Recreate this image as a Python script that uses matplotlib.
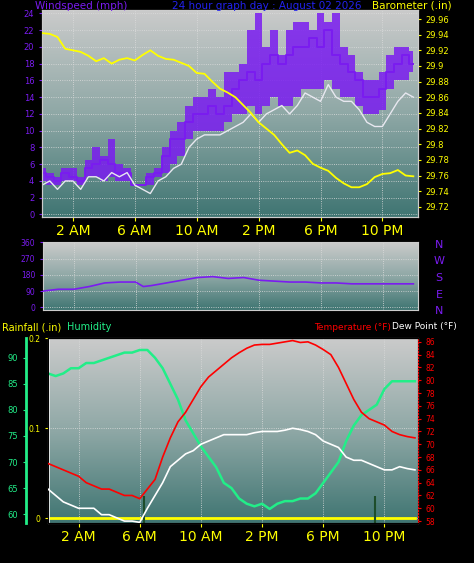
import numpy as np
import matplotlib
matplotlib.use("Agg")
import matplotlib.pyplot as plt
from matplotlib.colors import LinearSegmentedColormap

hours = np.arange(0, 24.01, 0.5)
gust_hi = [5.5,5,4.5,5.5,5.5,4.5,6.5,8,7,9,6,5.5,3.5,3.5,5,5.5,8,10,11,13,14,14,15,14,17,17,18,22,24,20,22,19,22,23,23,22,24,23,24,20,19,17,16,16,17,19,20,20,19.5]
gust_lo = [4,3.5,3.5,4,4,3.5,4.5,4.5,4,4.5,4,4,3.5,3.5,3.5,4.5,5,6,7,9,10,10,10,10,11,12,12,13,12,13,14,13,13,14,15,15,15,16,15,14,14,13,12,12,12.5,15,16,16,17]
gust = [5,4.5,4,5,4.5,4,5.5,6,6.5,6,5,5,3.5,3.5,4.5,5,7,9,9,11,12,12,13,12,13,15,16,17,16,18,19,18,19,20,20,21,20,22,19,18,17,16,14,14,15,17,18,19,18]
wavg = [3.5,4,3,4,4,3,4.5,4.5,4,5,4.5,5,3.5,3,2.5,4,4.5,5.5,6,8,9,9.5,9.5,9.5,10,10.5,11,12,11,12,12.5,13,12,13,14.5,14,13.5,15.5,14,13.5,13.5,12.5,11,10.5,10.5,12,13.5,14.5,14]
baro = [29.942,29.941,29.937,29.922,29.920,29.918,29.913,29.906,29.910,29.903,29.908,29.910,29.907,29.914,29.920,29.913,29.909,29.908,29.904,29.900,29.891,29.890,29.880,29.871,29.866,29.860,29.850,29.840,29.828,29.820,29.812,29.800,29.789,29.792,29.786,29.775,29.770,29.766,29.757,29.750,29.745,29.745,29.749,29.758,29.762,29.763,29.767,29.760,29.759]
dir_hours = [0,1,2,3,4,5,6,6.5,7,8,9,10,11,12,13,14,15,16,17,18,19,20,21,22,23,24]
wdir = [90,100,100,115,135,140,140,115,120,135,150,165,170,160,165,150,145,140,140,135,135,130,130,130,130,130]
humid = [87,86.5,87,88,88,89,89,89.5,90,90.5,91,91,91.5,91.5,90,88,85,82,78,75.5,73,71,69,66,65,63,62,61.5,62,61,62,62.5,62.5,63,63,64,66,68,70,74,77,79,80,81,84,85.5,85.5,85.5,85.5]
temp = [67,66.5,66,65.5,65,64,63.5,63,63,62.5,62,62,61.5,63,64.5,68,71,73.5,75,77,79,80.5,81.5,82.5,83.5,84.3,85,85.5,85.6,85.6,85.8,86,86.2,85.9,86,85.5,84.8,84,82,79.5,77,75,74,73.5,73,72,71.5,71.2,71]
dew = [63,62,61,60.5,60,60,60,59,59,58.5,58,58,57.8,60,62,64,66.5,67.5,68.5,69,70,70.5,71,71.5,71.5,71.5,71.5,71.8,72,72,72,72.2,72.5,72.3,72,71.5,70.5,70,69.5,68,67.5,67.5,67,66.5,66,66,66.5,66.2,66]
rain = [0.0]*len(hours)
time_ticks = [2,6,10,14,18,22]
time_labels = ["2 AM","6 AM","10 AM","2 PM","6 PM","10 PM"]

W, H = 474, 563
fig = plt.figure(figsize=(W/100, H/100), dpi=100, facecolor="black")
def ax_at(x0, y0, x1, y1):
    return fig.add_axes([x0/W, 1-y1/H, (x1-x0)/W, (y1-y0)/H])

grad = np.linspace(0, 1, 256).reshape(-1, 1)
cm = LinearSegmentedColormap.from_list("bg", ["#cbcbcb", "#8fa8a6", "#3f7572"])
def background(ax):
    ax.imshow(grad, cmap=cm, aspect="auto", extent=[0,1,0,1], transform=ax.transAxes, zorder=0)
    ax.grid(True, color="#dddddd", lw=0.6, ls=":", zorder=1)

def style(ax):
    ax.set_facecolor("#4a7a78")
    for s in ax.spines.values():
        s.set_color("#cccccc")

ypu = "#7a1cf0"
ax1 = ax_at(42, 10, 418, 217)
background(ax1); style(ax1)
ax1.fill_between(hours, gust_lo, gust_hi, step="mid", color=ypu, alpha=0.85, lw=0, zorder=2)
ax1.step(hours, gust, where="mid", color=ypu, lw=1.4, zorder=3)
ax1.plot(hours, wavg, color="#e8e8f0", lw=1.0, zorder=4)
ax1.set_xlim(0, 24.3); ax1.set_ylim(-0.3, 24.4)
ax1.set_yticks(range(0, 25, 2))
ax1.tick_params(axis="y", colors=ypu, labelsize=6, length=2)
ax1.set_xticks(time_ticks)
ax1.set_xticklabels(time_labels)
ax1.tick_params(axis="x", colors="yellow", labelsize=10, length=3, pad=2)
ax1b = ax1.twinx()
ax1b.plot(hours, baro, color="yellow", lw=1.3, zorder=5)
ax1b.set_ylim(29.707, 29.9715)
bt = np.arange(29.72, 29.961, 0.02)
ax1b.set_yticks(bt)
ax1b.set_yticklabels([f"{v:.2f}".rstrip("0") for v in bt])
ax1b.tick_params(axis="y", colors="yellow", labelsize=6, length=2)
for s in ax1b.spines.values(): s.set_color("#cccccc")

fig.text(35/W, 1-6/H, "Windspeed (mph)", color=ypu, fontsize=7.5, va="center")
fig.text(172/W, 1-6/H, "24 hour graph day : August 02 2026", color="#2222ee", fontsize=7.5, va="center")
fig.text(372/W, 1-6/H, "Barometer (.in)", color="yellow", fontsize=7.5, va="center")

ax2 = ax_at(43, 242, 418, 310)
background(ax2); style(ax2)
ax2.plot(dir_hours, wdir, color=ypu, lw=1.2, zorder=3)
ax2.set_xlim(0, 24.3); ax2.set_ylim(-15, 362)
ax2.set_yticks([0,90,180,270,360])
ax2.tick_params(axis="y", colors=ypu, labelsize=5.5, length=2)
ax2.set_xticks(time_ticks); ax2.tick_params(axis="x", length=0, labelbottom=False)
for i, l in enumerate("NWSEN"):
    fig.text(439/W, 1-(245+16.5*i)/H, l, color=ypu, fontsize=8, ha="center", va="center")

ax3 = ax_at(48, 338, 418, 523)
background(ax3); style(ax3)
ax3.set_xlim(0, 24.2)
ax3.plot(hours, rain, color="yellow", lw=2, zorder=3)
ax3.set_ylim(-0.005, 0.2)
ax3.set_yticks([0, 0.1, 0.2]); ax3.set_yticklabels(["0", "0.1", "0.2"])
ax3.tick_params(axis="y", colors="yellow", labelsize=5.5, length=2)
ax3.set_xticks(time_ticks); ax3.set_xticklabels(time_labels)
ax3.tick_params(axis="x", colors="yellow", labelsize=10, length=3, pad=2)
ax3.vlines([6.3, 21.4], -0.005, 0.025, color="#1d4d2a", lw=1.5, zorder=3)
ax3.axvline(0.05, color="white", lw=1.2, zorder=3)

axh = ax3.twinx()
axh.plot(hours, humid, color="#22ee88", lw=1.8, zorder=4)
axh.set_ylim(58.3, 93.8)
axh.set_yticks(range(60, 91, 5))
axh.yaxis.set_ticks_position("left"); axh.yaxis.set_label_position("left")
axh.spines["left"].set_position(("outward", 16)); axh.spines["left"].set_color("#22ee88")
axh.spines["left"].set_linewidth(2)
axh.tick_params(axis="y", colors="#22ee88", labelsize=6, length=2)

axt = ax3.twinx()
axt.plot(hours, temp, color="red", lw=1.2, zorder=5)
axt.plot(hours, dew, color="white", lw=1.2, zorder=5)
axt.set_ylim(57.7, 86.6)
axt.set_yticks(range(58, 87, 2))
axt.tick_params(axis="y", colors="red", labelsize=5.5, length=2)
axt.spines["right"].set_color("red"); axt.spines["right"].set_linestyle(":")
for a in (axh, axt):
    a.set_facecolor("none")

fig.text(2/W, 1-327/H, "Rainfall (.in)", color="yellow", fontsize=7, va="center")
fig.text(67/W, 1-327/H, "Humidity", color="#22ee88", fontsize=7, va="center")
fig.text(391/W, 1-327/H, "Temperature (°F)", color="red", fontsize=6.5, va="center", ha="right")
fig.text(392/W, 1-327/H, "Dew Point (°F)", color="white", fontsize=6.5, va="center")

fig.savefig("out.png", dpi=100, facecolor="black")
